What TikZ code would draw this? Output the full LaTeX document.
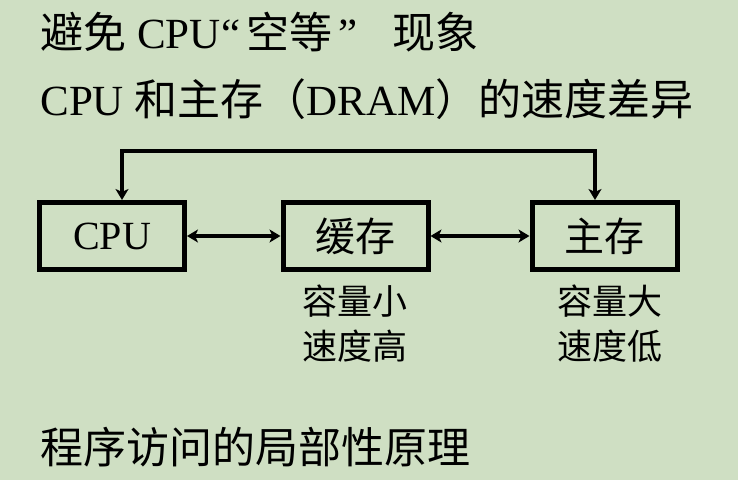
\documentclass[tikz,border=0pt]{standalone}
\usepackage{fontspec}
\setmainfont{Liberation Serif}
\newfontfamily\cjk{Noto Sans CJK SC}
\usetikzlibrary{arrows.meta,positioning}
\definecolor{slidebg}{RGB}{207,223,195}

\begin{document}
\begin{tikzpicture}[x=0.5pt, y=-0.5pt,
  box/.style={rectangle, draw, line width=2.5pt, minimum width=72.5pt, minimum height=33.5pt, inner sep=0pt, font=\fontsize{20}{24}\selectfont},
  head/.style={anchor=base west, inner sep=0pt, font=\fontsize{21.5}{26}\selectfont},
  note/.style={align=center, inner sep=0pt, font=\cjk\fontsize{17.5}{22.5}\selectfont},
  arr/.style={{Stealth[length=5.5pt,width=6.5pt,inset=1.5pt]}-{Stealth[length=5.5pt,width=6.5pt,inset=1.5pt]}, line width=2pt}
]
% slide background
\fill[slidebg] (0,0) rectangle (738,480);
\useasboundingbox (0,0) rectangle (738,480);

% headings
\node[head] (avoid) at (40,49) {{\cjk 避免} CPU\hspace{0.5pt}“\hspace{3pt}{\cjk 空等}\hspace{3pt}”\hspace{17.5pt}{\cjk 现象}};
\node[head] (gap) at (40,116) {CPU {\cjk 和主存（}DRAM{\cjk ）的速度差异}};

% memory hierarchy
\node[box] (cpu) at (112,236) {CPU};
\node[box] (cache) at (355.5,236) {{\cjk 缓存}};
\node[box] (main) at (604.5,236) {{\cjk 主存}};

\draw[arr] (cpu) -- (cache);
\draw[arr] (cache) -- (main);

\coordinate (top) at (358,151);
\draw[arr] ([xshift=5pt]cpu.north) |- (top) -| ([xshift=-4.75pt]main.north);

% notes under the boxes
\node[note] (cachenote) at (355,323.5) {容量小\\速度高};
\node[note] (mainnote) at (610,323.5) {容量大\\速度低};

% locality
\node[head] (locality) at (40,463) {{\cjk 程序访问的局部性原理}};

\end{tikzpicture}
\end{document}
